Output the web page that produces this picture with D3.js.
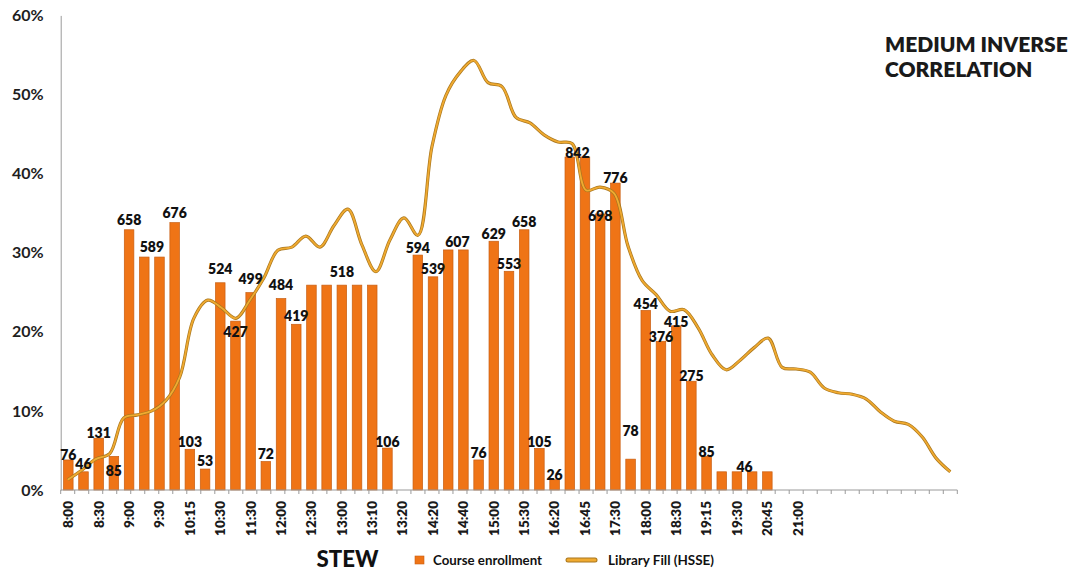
<!DOCTYPE html>
<html><head><meta charset="utf-8">
<script src="https://cdn.jsdelivr.net/npm/d3@7"></script>
<style>
html,body{margin:0;padding:0;background:#fff;}
svg text{font-family:Lato,"Open Sans",sans-serif;}
</style></head>
<body><svg id="c" width="1076" height="572"></svg>
<script>
// ---- data ----
const categories = ["8:00","8:15","8:30","8:45","9:00","9:15","9:30","9:45","10:15","10:20",
 "10:30","11:00","11:30","11:45","12:00","12:15","12:30","12:45","13:00","13:05",
 "13:10","13:15","13:20","14:00","14:20","14:30","14:40","14:50","15:00","15:15",
 "15:30","16:00","16:20","16:30","16:45","17:00","17:30","17:45","18:00","18:15",
 "18:30","19:00","19:15","19:20","19:30","20:30","20:45","20:50","21:00","",
 "","","","","","","","",""];
const shownCategoryLabels = ["8:00","8:30","9:00","9:30","10:15","10:30","11:30","12:00","12:30","13:00",
 "13:10","13:20","14:20","14:40","15:00","15:30","16:20","16:45","17:30","18:00","18:30","19:15","19:30","20:45","21:00"];
const courseEnrollment = [76,46,131,85,658,589,589,676,103,53,
 524,427,499,72,484,419,518,518,518,518,
 518,106,null,594,539,607,607,76,629,553,
 658,105,26,842,842,698,776,78,454,376,
 415,275,85,46,46,46,46,null,null,null,
 null,null,null,null,null,null,null,null,null];
const labeledBars = [0,1,2,3,4,5,7,8,9,10,11,12,13,14,15,18,21,23,24,25,27,28,29,30,31,32,33,35,36,37,38,39,40,41,42,44];
const libraryFill = [1.3,2.5,3.9,4.6,9.1,9.5,10.0,11.3,14.3,21.7,
 24.0,23.0,21.7,24.0,26.8,30.3,30.7,32.1,30.7,33.4,
 35.5,31.0,27.6,31.6,34.4,32.2,43.4,49.9,52.8,54.3,
 51.5,51.0,47.1,46.4,44.9,44.0,43.8,37.9,38.3,37.5,
 30.8,26.5,24.7,22.6,22.8,20.5,17.1,15.2,16.4,18.0,
 19.2,15.5,15.3,14.9,12.9,12.3,12.1,11.5,9.9,8.7,
 8.3,6.7,4.0,2.3];
const yTicks = [0,10,20,30,40,50,60];
const titleLines = ["MEDIUM INVERSE","CORRELATION"];
const axisTitle = "STEW";
const seriesNames = ["Course enrollment","Library Fill (HSSE)"];

// ---- label placement (style, not data) ----
const labelNudge = {0:-5,1:-8,2:-5,3:15,4:-10,5:[0.5,-10],7:-10,8:-7.6,9:-8,10:-14,11:11,12:-14,13:-8,14:-14,15:-8,
 18:-13.4,21:-6.3,23:-6.7,24:-7.5,25:[0.6,-8],27:-7.3,28:-7.2,29:-7.3,30:-7.7,31:-6.8,32:-4.7,33:[0.5,-4.4],
 35:2,36:-4.8,37:-28,38:-6.4,39:-4.6,40:-4.2,41:-5.5,42:-4.7,44:[0.5,-4.4]};

// ---- layout ----
const X0 = 60.7, X1 = 957.3, YB = 490, YT = 15.4;
const BAR = "#EF7416", BAR_EDGE = "#C85E12", LINE = "#F0AA30", LINE_EDGE = "#A9771F";
const svg = d3.select("#c");

const y = d3.scaleLinear().domain([0,60]).range([YB, YT]);
const yEnroll = d3.scaleLinear().domain([0,1200]).range([YB, YT]);
const xBar = d3.scaleBand().domain(d3.range(categories.length)).range([X0, X1]).paddingInner(0.37).paddingOuter(0.185);
const xLine = d3.scaleBand().domain(d3.range(libraryFill.length)).range([X0, X1]).padding(0);
const step = xBar.step();

// y axis
const ya = svg.append("g").attr("transform", `translate(${X0},0)`)
  .call(d3.axisLeft(y).tickValues(yTicks).tickFormat(d => d + "%").tickSize(0).tickPadding(17));
ya.select(".domain").attr("stroke", "#9a9a9a").attr("stroke-width", 1);
ya.selectAll("text").attr("font-size", 16).attr("font-weight", 700).attr("fill", "#1e1e1e")
  .attr("font-family", "Lato, sans-serif");

// bars
svg.append("g").selectAll("rect")
  .data(courseEnrollment.map((v,i)=>({v,i})).filter(d => d.v != null))
  .join("rect")
  .attr("x", d => xBar(d.i)).attr("width", xBar.bandwidth())
  .attr("y", d => yEnroll(d.v)).attr("height", d => YB - yEnroll(d.v))
  .attr("fill", BAR).attr("stroke", BAR_EDGE).attr("stroke-width", 0.7);

// x axis line and ticks (line series axis)
const xa = svg.append("g");
xa.append("line").attr("x1", X0).attr("x2", X1).attr("y1", YB).attr("y2", YB)
  .attr("stroke", "#9a9a9a").attr("stroke-width", 1);
const tickXs = d3.range(libraryFill.length).map(i => xLine(i)).concat([X1]);
xa.selectAll("line.t").data(tickXs).join("line").attr("class","t")
  .attr("x1", d => d).attr("x2", d => d).attr("y1", YB).attr("y2", YB + 4)
  .attr("stroke", "#9a9a9a").attr("stroke-width", 1);

// x category labels
svg.append("g").selectAll("text")
  .data(categories.map((c,i)=>({c,i})).filter(d => shownCategoryLabels.includes(d.c) && d.c !== ""))
  .join("text")
  .attr("transform", d => `translate(${xBar(d.i) + xBar.bandwidth()/2},${YB + 11}) rotate(-90)`)
  .attr("text-anchor", "end").attr("dy", "0.36em")
  .attr("font-size", 13.5).attr("font-weight", 800).attr("fill", "#1a1a1a")
  .text(d => d.c);

// line
const lineGen = d3.line()
  .x((v,i) => xLine(i) + xLine.bandwidth()/2)
  .y(v => y(v))
  .curve(d3.curveCatmullRom.alpha(0.5));
svg.append("path").attr("d", lineGen(libraryFill)).attr("fill","none")
  .attr("stroke", LINE_EDGE).attr("stroke-width", 3.2).attr("stroke-linejoin","round");
svg.append("path").attr("d", lineGen(libraryFill)).attr("fill","none")
  .attr("stroke", LINE).attr("stroke-width", 1.8).attr("stroke-linejoin","round");

// bar labels
svg.append("g").selectAll("text")
  .data(labeledBars)
  .join("text")
  .attr("x", i => { const n = labelNudge[i]; const dx = Array.isArray(n) ? n[0] : 0;
      return xBar(i) + xBar.bandwidth()/2 + dx * step; })
  .attr("y", i => { const n = labelNudge[i]; const dy = Array.isArray(n) ? n[1] : (n == null ? -7 : n);
      return yEnroll(courseEnrollment[i]) + dy; })
  .attr("dy", "0.36em").attr("text-anchor", "middle")
  .attr("font-size", 14).attr("font-weight", 800).attr("fill", "#111")
  .text(i => courseEnrollment[i]);

// title
svg.append("g").selectAll("text").data(titleLines).join("text")
  .attr("x", 885).attr("y", (d,i) => 51.7 + i*25.6)
  .attr("font-size", 21).attr("font-weight", 800).attr("fill", "#1a1a1a")
  .text(d => d);

// axis title
svg.append("text").attr("x", 316.5).attr("y", 567.3)
  .attr("font-size", 22).attr("font-weight", 900).attr("fill", "#111")
  .attr("textLength", 62).attr("lengthAdjust", "spacingAndGlyphs").text(axisTitle);

// legend
const lg = svg.append("g");
lg.append("rect").attr("x", 415).attr("y", 556).attr("width", 9).attr("height", 8)
  .attr("fill", BAR).attr("stroke", BAR_EDGE).attr("stroke-width", 0.6);
lg.append("text").attr("x", 433).attr("y", 564.5).attr("font-size", 13.5).attr("font-weight", 700)
  .attr("fill", "#111").attr("textLength", 109).attr("lengthAdjust", "spacingAndGlyphs").text(seriesNames[0]);
lg.append("line").attr("x1", 568).attr("x2", 595).attr("y1", 560).attr("y2", 560)
  .attr("stroke", LINE_EDGE).attr("stroke-width", 5).attr("stroke-linecap","round");
lg.append("line").attr("x1", 568).attr("x2", 595).attr("y1", 560).attr("y2", 560)
  .attr("stroke", LINE).attr("stroke-width", 3).attr("stroke-linecap","round");
lg.append("text").attr("x", 608).attr("y", 564.5).attr("font-size", 13.5).attr("font-weight", 700)
  .attr("fill", "#111").attr("textLength", 106).attr("lengthAdjust", "spacingAndGlyphs").text(seriesNames[1]);
</script></body></html>
